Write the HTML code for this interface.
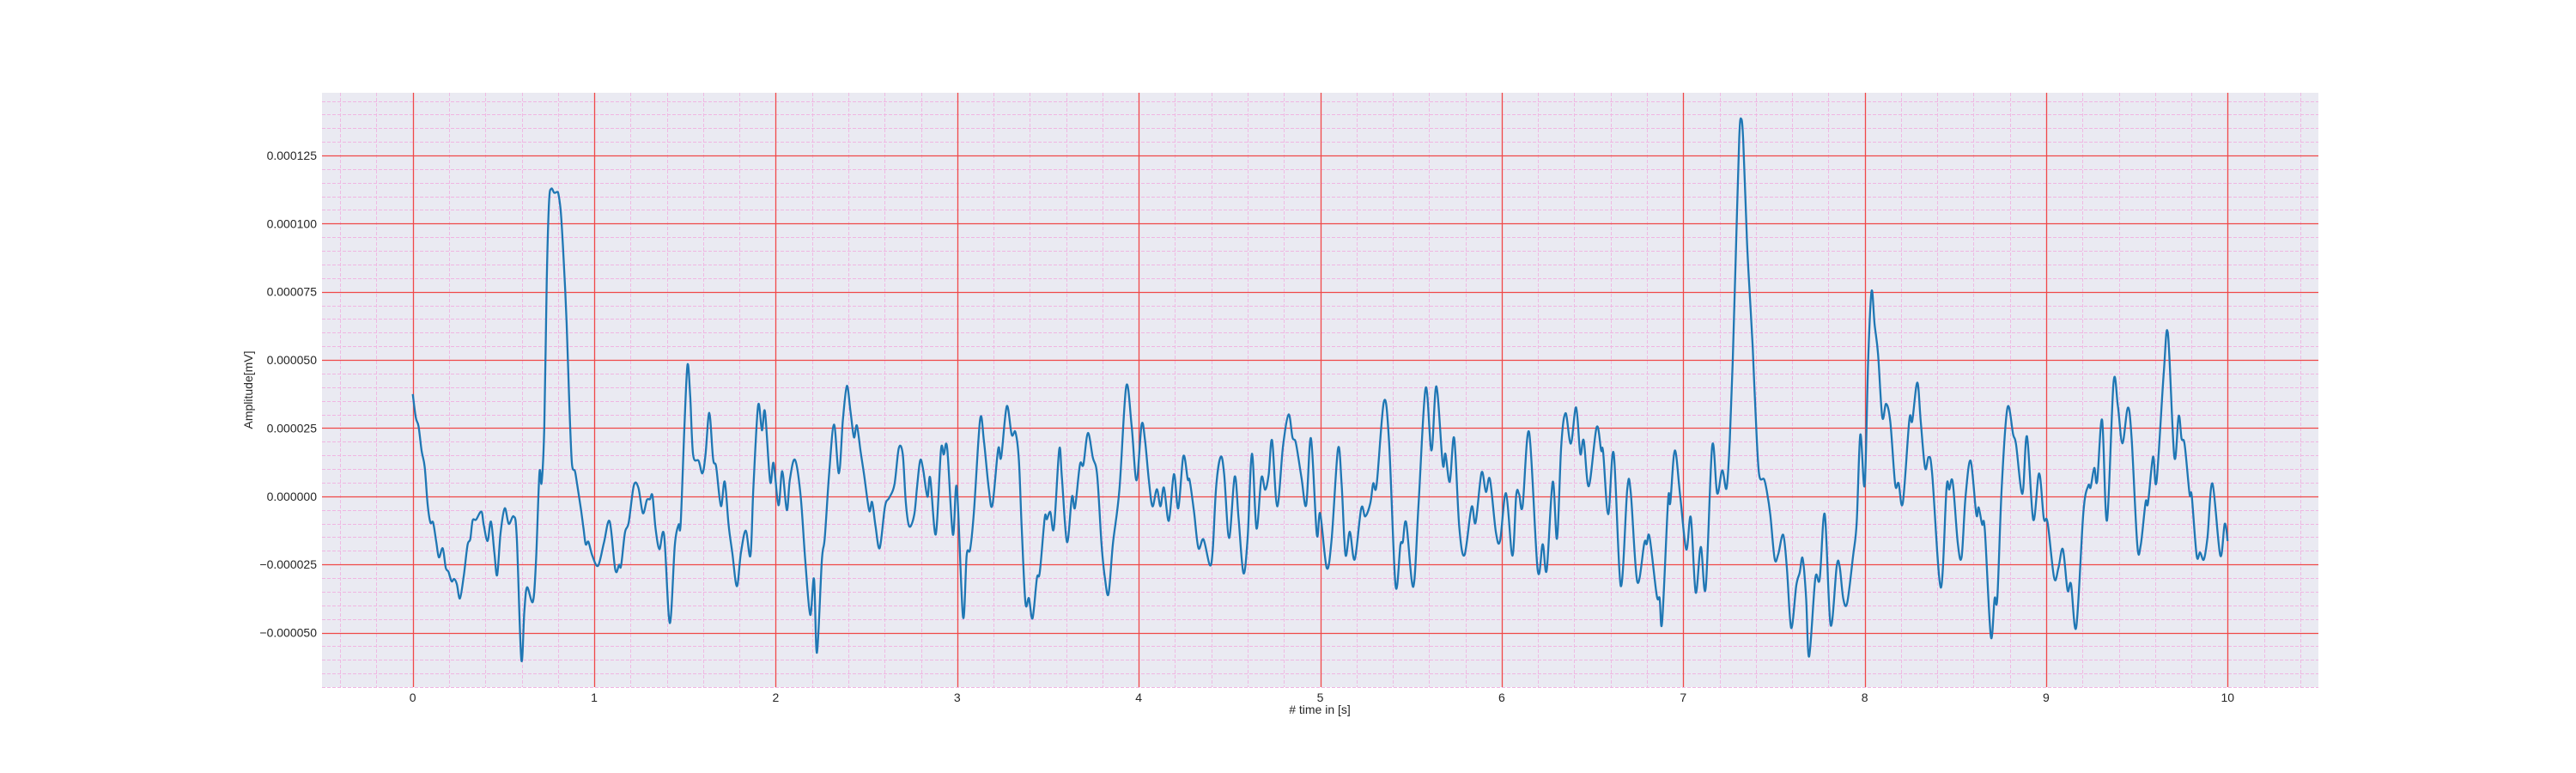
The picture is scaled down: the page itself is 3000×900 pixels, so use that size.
<!DOCTYPE html>
<html><head><meta charset="utf-8"><style>
html,body{margin:0;padding:0;background:#fff;}
svg{display:block;font-family:"Liberation Sans",sans-serif;}
</style></head><body>
<svg id="chart" width="3000" height="900" xmlns="http://www.w3.org/2000/svg">
<rect x="0" y="0" width="3000" height="900" fill="#fff"/>
<rect x="375" y="108" width="2325" height="692" fill="#eaeaf2"/>
<g id="grid"></g>
<g id="series"></g>
<g id="ticks"></g>
<text x="1537" y="831" font-size="14" fill="#262626" text-anchor="middle"># time in [s]</text>
<text x="0" y="0" font-size="14" fill="#262626" text-anchor="middle" transform="translate(294,454) rotate(-90)">Amplitude[mV]</text>
</svg>
<script>
// time samples [s]
const times = [0,0.017,0.032,0.049,0.066,0.082,0.097,0.112,0.129,0.144,0.165,0.182,0.197,0.214,0.228,0.243,0.26,0.281,0.302,0.317,0.33,0.349,0.378,0.391,0.412,0.431,0.45,0.465,0.484,0.507,0.529,0.556,0.573,0.598,0.615,0.63,0.662,0.679,0.698,0.71,0.725,0.738,0.751,0.763,0.78,0.795,0.803,0.816,0.831,0.848,0.863,0.877,0.894,0.905,0.926,0.941,0.953,0.968,0.989,1.021,1.053,1.085,1.116,1.137,1.148,1.169,1.19,1.218,1.243,1.268,1.29,1.307,1.321,1.338,1.359,1.385,1.416,1.444,1.465,1.476,1.497,1.514,1.529,1.545,1.575,1.596,1.613,1.634,1.655,1.672,1.698,1.719,1.74,1.761,1.786,1.808,1.835,1.861,1.877,1.903,1.924,1.941,1.969,1.988,2.015,2.036,2.061,2.078,2.106,2.137,2.163,2.19,2.211,
2.227,2.254,2.27,2.294,2.321,2.348,2.37,2.392,2.412,2.431,2.447,2.468,2.487,2.515,2.531,2.55,2.573,2.602,2.626,2.654,2.678,2.7,2.717,2.736,2.763,2.779,2.796,2.812,2.836,2.851,2.882,2.91,2.926,2.945,2.976,2.998,3.032,3.052,3.071,3.092,3.126,3.147,3.174,3.194,3.226,3.242,3.273,3.3,3.321,3.34,3.355,3.376,3.395,3.415,3.439,3.455,3.482,3.494,3.513,3.533,3.562,3.577,3.605,3.632,3.649,3.676,3.695,3.72,3.747,3.771,3.795,3.814,3.834,3.858,3.894,3.931,3.961,3.988,4.016,4.035,4.056,4.076,4.1,
4.12,4.139,4.166,4.194,4.218,4.246,4.27,4.281,4.305,4.329,4.357,4.392,4.408,4.427,4.452,4.471,4.498,4.529,4.55,4.577,4.6,4.624,4.649,4.676,4.697,4.716,4.735,4.763,4.795,4.826,4.847,4.866,4.897,4.923,4.949,4.981,5,5.036,5.063,5.098,5.118,5.139,5.163,5.19,5.226,5.248,5.276,5.292,5.311,5.351,5.379,5.415,5.442,5.455,5.474,5.513,5.542,5.581,5.613,5.64,5.675,5.69,5.714,5.738,5.766,5.795,5.834,5.856,5.889,5.913,5.935,5.968,5.991,6.024,6.059,
6.08,6.096,6.115,6.151,6.198,6.226,6.248,6.281,6.305,6.328,6.352,6.381,6.41,6.433,6.452,6.48,6.523,6.548,6.559,6.587,6.617,6.656,6.692,6.711,6.747,6.786,6.799,6.815,6.854,6.87,6.884,6.917,6.929,6.954,6.983,7.017,7.042,7.069,7.097,7.124,7.16,7.187,7.215,7.239,7.257,
7.273,7.289,7.309,7.32,7.331,7.352,7.367,7.383,7.399,7.418,7.446,7.462,7.48,7.504,7.524,7.551,7.571,7.595,7.623,7.642,7.658,7.677,7.694,7.728,7.752,7.78,7.812,7.846,7.862,7.882,7.904,7.936,7.956,7.976,8,8.019,8.038,8.055,8.074,8.097,8.118,8.141,8.168,8.187,8.21,8.246,8.262,8.29,8.309,8.333,8.353,8.372,8.419,8.451,8.466,8.485,8.513,8.534,8.556,8.584,8.615,8.628,8.647,8.662,
8.695,8.716,8.731,8.755,8.787,8.818,8.834,8.869,8.894,8.929,8.961,8.987,9.008,9.044,9.068,9.092,9.118,9.137,9.166,9.205,9.232,9.245,9.265,9.281,9.308,9.335,9.371,9.395,9.42,9.45,9.471,9.502,9.521,9.548,9.561,9.589,9.608,9.648,9.671,9.706,9.73,9.746,9.763,9.79,9.802,9.829,9.848,9.869,9.889,9.916,9.959,9.984,10];
// amplitude samples in units of 1e-6 mV
const amplitudes = [37.5,28.8,25.7,16.7,10.7,-2.9,-9.6,-9.6,-16.4,-22.4,-19.1,-26.2,-27.7,-31.2,-30.3,-32.2,-37.5,-29.2,-17.9,-15.7,-8.9,-8.6,-5.6,-10.4,-16.4,-9.3,-20.9,-28.9,-13.4,-4.4,-10.1,-7.4,-14.9,-59.8,-42,-33.4,-38.7,-23.9,8.4,5,25.7,78.5,107.8,112.8,111.3,111.6,110.8,104,87.5,63.4,33.3,12.2,9.2,4.7,-4.4,-11.9,-17.6,-16.7,-21.7,-25.5,-17.2,-9.2,-27,-25.1,-25.5,-13.4,-9.6,3.9,3.2,-6.2,-1.4,-1.1,0.2,-11.9,-19.4,-14.2,-46.5,-17.9,-10.4,-10.1,25.7,48.3,36.3,15.2,13,8.4,15.2,30.6,13.7,10.7,-3.6,5.4,-10.4,-20.9,-33,-20.9,-12.6,-21.7,3.2,33.3,24.2,31,5.4,12.2,-3.3,9.2,-5.1,6.2,13.4,0.2,-23.9,-43.5,-30.3,
-57.4,-23.7,-15.3,7.9,26.3,8.4,27.9,40.5,31.1,21.6,26,16.3,7.9,-5.3,-2.1,-11.1,-19,-3.7,-0.5,4.2,17.6,15.3,-2.6,-11.1,-6.8,3.7,13.2,10,-0.2,6.8,-14,16.8,15.3,17.6,-14,3.2,-44.2,-21.6,-19.5,-5.8,28.1,20.5,2.6,-3.2,17.4,14.2,33,22.6,23.5,13.2,-11.1,-39,-37.4,-44.8,-30,-27.9,-7.9,-8.4,-5.8,-11.6,17.2,6.8,-16.8,-0.2,-4.2,11.6,11.6,23.2,14.2,7.9,-17.4,-30,-35.8,-17.4,2.6,40.3,25.8,5.8,26.3,20.5,5.8,-3.7,2.6,
-3.7,3.2,-9,8.1,-4.4,14.7,6.3,5.8,-5.8,-19,-15.8,-25.3,-19.5,3.7,14.5,7.9,-15.3,7.2,-7.9,-28.2,-15.3,15.6,-11.8,6.8,2.4,7.9,20.5,-3.7,18.4,30,21.6,19.5,6.8,-3.2,21.3,-13.9,-6.3,-26.3,-15.8,17.4,4.7,-21.4,-13,-23.2,-4.4,-7.4,-2.6,4.7,4.2,34.7,20.5,-32.6,-17.9,-16.8,-9.7,-33.2,-2.6,39.7,16.8,40.3,11.9,15.6,5.3,21.4,-11.1,-21.6,-3.9,-9.7,8.7,1.6,6.3,-13.2,-16.3,1.1,-21.8,
0.5,0.7,-3.7,23.5,-26.9,-17.6,-27.1,5.3,-15.5,18.4,30.5,19.3,32.6,15.6,20.5,3.7,25.3,16.8,16.3,-6.6,15.8,-32.9,2.6,1.6,-31.4,-17.1,-17.6,-15,-36.3,-37.4,-46.1,-1.3,-2.4,16.8,0.5,-19.5,-7.7,-35.3,-18.6,-33.7,18.4,1.1,9.5,2.9,20.5,
49.2,86.2,131.3,138.4,130,93,73.9,54.7,30.1,8.2,6.2,1.4,-6.8,-23,-21.2,-14.1,-26,-48.3,-32.8,-28,-22.7,-36.9,-58.8,-30.1,-30.4,-6.6,-47.2,-25.7,-25.7,-37.6,-39,-21.9,-9.6,22.6,4.1,49.2,75.2,62.9,52,29,33.9,27.4,4.4,4.8,-2.5,28,27.6,41.7,27.4,10.3,14.4,8.2,-33.5,3,2.5,5.2,-17.1,-22.3,0,13,-6.6,-4.1,-10.3,-12.3,
-51.4,-37.5,-37.2,3.2,32.5,22.7,19,0.9,22,-8.6,8.4,-8.1,-9.6,-30,-26.2,-19.4,-34.5,-32.2,-48,-5.9,3.9,3.2,10.4,5.4,28,-8.9,41.6,33.3,19.4,32.5,21.2,-17.9,-17.9,-2.1,-2.6,14.5,5.4,45.3,59.6,14.5,29.5,21.2,19,0.9,0.2,-21.7,-20.6,-23.2,-14.9,4.7,-21.7,-10.1,-16.4];
// axis ticks
const xTicks = [0,1,2,3,4,5,6,7,8,9,10];
const xTickLabels = ["0","1","2","3","4","5","6","7","8","9","10"];
const yTicks = [-50,-25,0,25,50,75,100,125];
const yTickLabels = ["\u22120.000050","\u22120.000025","0.000000","0.000025","0.000050","0.000075","0.000100","0.000125"];

const X0=375,X1=2700,Y0=108,Y1=800;
const xMin=-0.5,xMax=10.5,yMin=-70,yMax=148;
const xs=t=>X0+(t-xMin)/(xMax-xMin)*(X1-X0);
const ys=v=>Y1-(v-yMin)/(yMax-yMin)*(Y1-Y0);
const NS="http://www.w3.org/2000/svg";
const grid=document.getElementById('grid');
function line(x1,y1,x2,y2,stroke,w,dash){
  const l=document.createElementNS(NS,'line');
  l.setAttribute('x1',x1);l.setAttribute('y1',y1);l.setAttribute('x2',x2);l.setAttribute('y2',y2);
  l.setAttribute('stroke',stroke);l.setAttribute('stroke-width',w);
  if(dash)l.setAttribute('stroke-dasharray',dash);
  grid.appendChild(l);return l;
}
// minor grid
for(let i=-2;i<=52;i++){const t=i*0.2;if(Math.abs(t-Math.round(t))<1e-6)continue;
  const x=Math.round(xs(t))+0.5;
  const l=line(x,Y0,x,Y1,'#f0b6e2',0.9,'4,2');
  
  }
for(let v=-70;v<=145;v+=5){if(v%25===0)continue;
  const y=Math.round(ys(v))+0.5;
  const l=line(X0,y,X1,y,'#f0b6e2',0.9,'4,2');
  
  }
// major grid
xTicks.forEach(t=>{const x=Math.round(xs(t))+0.5;
  const l=line(x,Y0,x,Y1,'#f04848',1.3);
  
  });
yTicks.forEach(v=>{const y=Math.round(ys(v))+0.5;
  const l=line(X0,y,X1,y,'#f04848',1.3);
  
  });
// tick labels
const tk=document.getElementById('ticks');
xTicks.forEach((t,i)=>{const e=document.createElementNS(NS,'text');
  e.setAttribute('x',xs(t));e.setAttribute('y',817);e.setAttribute('font-size','14');
  e.setAttribute('fill','#262626');e.setAttribute('text-anchor','middle');
  e.textContent=xTickLabels[i];
  
  
  tk.appendChild(e);});
yTicks.forEach((v,i)=>{const e=document.createElementNS(NS,'text');
  e.setAttribute('x',369);e.setAttribute('y',ys(v)+5);e.setAttribute('font-size','14');
  e.setAttribute('fill','#262626');e.setAttribute('text-anchor','end');
  e.textContent=yTickLabels[i];
  
  
  tk.appendChild(e);});
// series: catmull-rom spline
const P=times.map((t,i)=>[xs(t),ys(amplitudes[i])]);
let d='M'+P[0][0].toFixed(1)+','+P[0][1].toFixed(1);
for(let i=0;i<P.length-1;i++){
  const p0=P[Math.max(0,i-1)],p1=P[i],p2=P[i+1],p3=P[Math.min(P.length-1,i+2)];
  const k=6;
  const c1=[p1[0]+(p2[0]-p0[0])/k,p1[1]+(p2[1]-p0[1])/k];
  const c2=[p2[0]-(p3[0]-p1[0])/k,p2[1]-(p3[1]-p1[1])/k];
  d+=' C'+c1[0].toFixed(1)+','+c1[1].toFixed(1)+' '+c2[0].toFixed(1)+','+c2[1].toFixed(1)+' '+p2[0].toFixed(1)+','+p2[1].toFixed(1);
}
const path=document.createElementNS(NS,'path');
path.setAttribute('d',d);path.setAttribute('fill','none');
path.setAttribute('stroke','#1f77b4');path.setAttribute('stroke-width','2.3');
path.setAttribute('stroke-linejoin','round');


document.getElementById('series').appendChild(path);
</script>
</body></html>
